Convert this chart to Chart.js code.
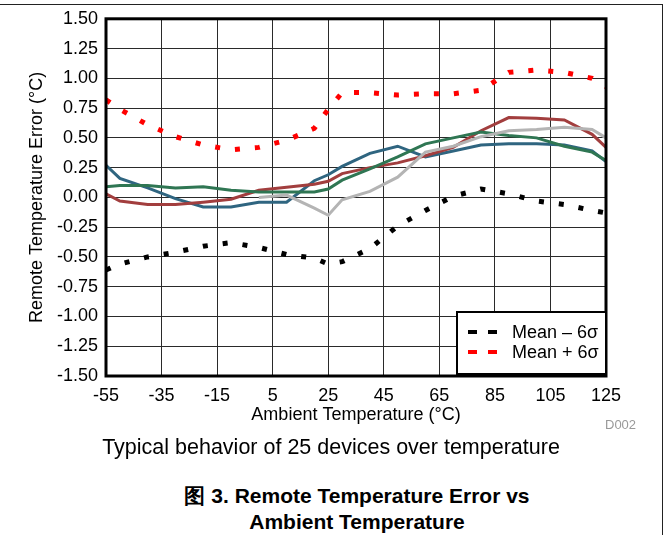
<!DOCTYPE html>
<html>
<head>
<meta charset="utf-8">
<script src="https://cdn.jsdelivr.net/npm/chart.js@4.4.1/dist/chart.umd.min.js"></script>
<style>
    body { margin: 0; background: #fff; font-family: Arial, "Liberation Sans", sans-serif; }
    #wrap { position: relative; width: 669px; height: 535px; overflow: hidden; }
    #frame { position: absolute; left: 0; top: 4px; width: 662px; height: 540px; border-top: 1px solid #222; border-right: 1px solid #222; }
    #chart { position: absolute; left: 0; top: 0; }
    .txt { position: absolute; white-space: nowrap; color: #000; }
    #code { left: 605px; top: 417px; font-size: 13px; color: #999; }
    #note { left: 0; width: 662px; text-align: center; top: 434px; font-size: 21.5px; line-height: 26px; }
    .cap { left: 0; width: 714px; text-align: center; font-size: 21px; line-height: 24px; font-weight: bold; }
</style>
</head>
<body>
<div id="wrap">
    <div id="frame"></div>
    <canvas id="chart" width="669" height="435"></canvas>
    <div class="txt" id="code">D002</div>
    <div class="txt" id="note">Typical behavior of 25 devices over temperature</div>
    <div class="txt cap" style="top:484px">图 3. Remote Temperature Error vs</div>
    <div class="txt cap" style="top:510px">Ambient Temperature</div>
</div>
<script>
// temperatures (°C) where the curves were read
const temps = [-55, -50, -40, -30, -20, -10, 0, 10, 20, 25, 30, 40, 50, 60, 70, 80, 90, 100, 110, 120, 125];

// individual devices
const grayDev  = [null, null, null, null, null, null, 0.00, 0.02, -0.09, -0.15, -0.02, 0.05, 0.17, 0.38, 0.43, 0.51, 0.56, 0.57, 0.59, 0.57, 0.50];
const greenDev = [0.09, 0.10, 0.10, 0.08, 0.09, 0.06, 0.045, 0.045, 0.045, 0.07, 0.145, 0.24, 0.34, 0.45, 0.50, 0.55, 0.52, 0.50, 0.43, 0.38, 0.31];
const redDev   = [0.03, -0.03, -0.06, -0.06, -0.04, -0.015, 0.06, 0.085, 0.11, 0.135, 0.20, 0.25, 0.29, 0.35, 0.42, 0.56, 0.67, 0.665, 0.65, 0.53, 0.42];
const blueDev  = [0.27, 0.16, 0.08, -0.01, -0.08, -0.08, -0.04, -0.04, 0.14, 0.19, 0.26, 0.37, 0.43, 0.34, 0.39, 0.44, 0.45, 0.45, 0.44, 0.39, 0.30];

// mean +/- 6 sigma envelopes
const meanMinus = [-0.61, -0.56, -0.50, -0.46, -0.41, -0.38, -0.42, -0.48, -0.51, -0.56, -0.54, -0.43, -0.24, -0.11, 0.01, 0.07, 0.03, -0.03, -0.06, -0.11, -0.13];
const meanPlus  = [0.82, 0.74, 0.61, 0.51, 0.44, 0.40, 0.42, 0.48, 0.58, 0.74, 0.88, 0.88, 0.86, 0.87, 0.87, 0.90, 1.05, 1.07, 1.05, 1.00, 0.93];

const xMin = -55, xMax = 125, xStep = 20;
const yMin = -1.5, yMax = 1.5, yStep = 0.25;

const FONT = 'Arial, "Liberation Sans", sans-serif';

function pts(values) {
    return temps.map((t, i) => ({ x: t, y: values[i] }));
}

function solid(label, values, color) {
    return {
        label, data: pts(values), borderColor: color, backgroundColor: color,
        borderWidth: 3, pointRadius: 0, tension: 0, fill: false
    };
}

function dotted(label, values, color) {
    return {
        label, data: pts(values), borderColor: color, backgroundColor: color,
        borderWidth: 5, borderDash: [5, 15], borderCapStyle: 'butt',
        pointRadius: 0, tension: 0, fill: false
    };
}

// frame round the plot and the boxed legend
const framePlugin = {
    id: 'frameAndLegend',
    afterDraw(chart) {
        const { ctx, chartArea: a } = chart;
        ctx.save();
        ctx.strokeStyle = '#000';
        ctx.lineWidth = 3;
        ctx.strokeRect(a.left, a.top, a.right - a.left, a.bottom - a.top);

        const bx = 457, by = 312, bw = a.right - 457, bh = a.bottom - 2 - 312;
        ctx.fillStyle = '#fff';
        ctx.fillRect(bx, by, bw, bh);
        ctx.lineWidth = 2;
        ctx.strokeRect(bx, by, bw, bh);

        const items = [
            { text: 'Mean \u2013 6\u03c3', color: '#000', y: 332 },
            { text: 'Mean + 6\u03c3', color: '#ff0000', y: 352 }
        ];
        ctx.font = '18px ' + FONT;
        ctx.textBaseline = 'middle';
        items.forEach(it => {
            ctx.fillStyle = it.color;
            ctx.fillRect(468, it.y - 2, 9, 4);
            ctx.fillRect(488, it.y - 2, 9, 4);
            ctx.fillStyle = '#000';
            ctx.fillText(it.text, 512, it.y + 1);
        });
        ctx.restore();
    }
};

new Chart(document.getElementById('chart'), {
    type: 'line',
    data: {
        datasets: [
            solid('Device A', grayDev, '#b4b4b4'),
            solid('Device B', greenDev, '#2f7653'),
            solid('Device C', redDev, '#a23e3e'),
            solid('Device D', blueDev, '#2f6580'),
            dotted('Mean \u2013 6\u03c3', meanMinus, '#000000'),
            dotted('Mean + 6\u03c3', meanPlus, '#ff0000')
        ]
    },
    options: {
        responsive: false,
        devicePixelRatio: 1,
        animation: false,
        layout: { padding: { top: 18, right: 63, left: 0, bottom: 0 } },
        plugins: {
            legend: { display: false },
            tooltip: { enabled: false }
        },
        scales: {
            x: {
                type: 'linear',
                min: xMin, max: xMax,
                afterFit: s => { s.height = 59; },
                ticks: { stepSize: xStep, color: '#000', padding: 9, font: { family: FONT, size: 18 } },
                grid: { color: '#2a2a2a', lineWidth: 1, drawTicks: false },
                border: { display: false },
                title: {
                    display: true, text: 'Ambient Temperature (\u00b0C)', color: '#000',
                    padding: { top: 0, bottom: 9 }, font: { family: FONT, size: 18 }
                }
            },
            y: {
                min: yMin, max: yMax,
                afterFit: s => { s.width = 106; },
                ticks: {
                    stepSize: yStep, color: '#000', padding: 8,
                    font: { family: FONT, size: 18 },
                    callback: v => v.toFixed(2)
                },
                grid: { color: '#2a2a2a', lineWidth: 1, drawTicks: false },
                border: { display: false },
                title: {
                    display: true, text: 'Remote Temperature Error (\u00b0C)', color: '#000',
                    padding: { top: 26, bottom: 0 }, font: { family: FONT, size: 18 }
                }
            }
        }
    },
    plugins: [framePlugin]
});
</script>
</body>
</html>
